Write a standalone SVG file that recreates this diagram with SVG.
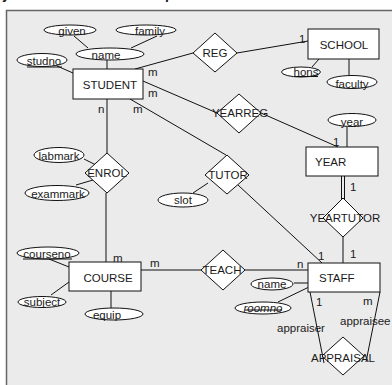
<svg xmlns="http://www.w3.org/2000/svg" width="392" height="385" viewBox="0 0 392 385">
  <style>
    text { font-family: "Liberation Sans", Arial, sans-serif; font-size: 11.5px; fill: #1a1a1a; }
    .c { text-anchor: middle; }
    .ent { fill: #fff; stroke: #111; stroke-width: 1; }
    .rel { fill: #fff; stroke: #111; stroke-width: 1; }
    .att { fill: #fff; stroke: #111; stroke-width: 1; }
    .ln { stroke: #111; stroke-width: 1; fill: none; }
    .title { font-weight: bold; font-size: 14px; }
  </style>

  <!-- background panel -->
  <rect x="0" y="0" width="392" height="385" fill="#fff"/>
  <text class="title" x="2" y="-1">y</text>
  <text class="title" x="165" y="-1">p</text>
  <rect x="6.5" y="10.5" width="390" height="380" fill="#ebebeb" stroke="#666" stroke-width="1.5"/>

  <!-- connectors -->
  <g id="connectors" class="ln">
    <line x1="74" y1="36" x2="88" y2="48"/>
    <line x1="157" y1="36" x2="131" y2="48"/>
    <line x1="107" y1="60" x2="107" y2="69"/>
    <line x1="57" y1="66" x2="73" y2="73"/>
    <line x1="135" y1="69" x2="193" y2="53"/>
    <line x1="237" y1="53" x2="308" y2="41"/>
    <line x1="319" y1="59" x2="312" y2="67"/>
    <line x1="349" y1="59" x2="349" y2="75"/>
    <line x1="143" y1="81" x2="217" y2="113"/>
    <line x1="261" y1="113" x2="338" y2="147"/>
    <line x1="347" y1="127" x2="347" y2="147"/>
    <line x1="341.5" y1="176" x2="341.5" y2="199"/>
    <line x1="344.5" y1="176" x2="344.5" y2="199"/>
    <line x1="343" y1="237" x2="343" y2="263"/>
    <line x1="130" y1="99" x2="226" y2="155"/>
    <line x1="238" y1="185" x2="322" y2="263"/>
    <line x1="193" y1="193" x2="208" y2="183"/>
    <line x1="107" y1="99" x2="107" y2="153"/>
    <line x1="84" y1="159" x2="96" y2="165"/>
    <line x1="76" y1="185" x2="93" y2="180"/>
    <line x1="106" y1="193" x2="106" y2="262"/>
    <line x1="49" y1="259" x2="69" y2="267"/>
    <line x1="51" y1="295" x2="69" y2="282"/>
    <line x1="111" y1="291" x2="111" y2="308"/>
    <line x1="141" y1="270" x2="201" y2="270"/>
    <line x1="245" y1="270" x2="308" y2="270"/>
    <line x1="294" y1="283" x2="308" y2="283"/>
    <line x1="278" y1="302" x2="309" y2="287"/>
    <line x1="310" y1="292" x2="324" y2="363"/>
    <line x1="380" y1="292" x2="366" y2="362"/>
  </g>

  <!-- cardinality and role labels -->
  <g id="labels">
    <text x="148" y="76">m</text>
    <text x="148" y="97">m</text>
    <text x="133" y="113">m</text>
    <text x="98" y="113">n</text>
    <text x="299" y="43">1</text>
    <text x="333" y="146">1</text>
    <text x="350" y="191">1</text>
    <text x="350" y="258">1</text>
    <text x="318" y="260">1</text>
    <text x="113" y="262">m</text>
    <text x="150" y="267">m</text>
    <text x="297" y="268">n</text>
    <text x="316" y="306">1</text>
    <text x="363" y="305">m</text>
    <text x="277" y="332">appraiser</text>
    <text x="340" y="325">appraisee</text>
  </g>

  <!-- entities -->
  <g id="STUDENT">
    <rect class="ent" x="73" y="69" width="70" height="30"/>
    <text class="c" x="110" y="89">STUDENT</text>
  </g>
  <g id="SCHOOL">
    <rect class="ent" x="308" y="29" width="71" height="30"/>
    <text class="c" x="344" y="49">SCHOOL</text>
  </g>
  <g id="YEAR">
    <rect class="ent" x="306" y="147" width="72" height="29"/>
    <text x="315" y="166">YEAR</text>
  </g>
  <g id="STAFF">
    <rect class="ent" x="308" y="263" width="72" height="29"/>
    <text x="319" y="282">STAFF</text>
  </g>
  <g id="COURSE">
    <rect class="ent" x="69" y="262" width="72" height="29"/>
    <text class="c" x="108" y="282">COURSE</text>
  </g>

  <!-- relationships -->
  <g id="REG">
    <polygon class="rel" points="215,33 237,53 215,72 193,53"/>
    <text class="c" x="215" y="57">REG</text>
  </g>
  <g id="YEARREG">
    <polygon class="rel" points="239,94 261,113 239,133 217,113"/>
    <text class="c" x="240" y="117">YEARREG</text>
  </g>
  <g id="TUTOR">
    <polygon class="rel" points="227,155 249,175 227,194 205,175"/>
    <text class="c" x="228" y="179">TUTOR</text>
  </g>
  <g id="ENROL">
    <polygon class="rel" points="107,153 129,173 107,193 85,173"/>
    <text class="c" x="107" y="177">ENROL</text>
  </g>
  <g id="YEARTUTOR">
    <polygon class="rel" points="343,198 363,218 343,237 323,218"/>
    <text class="c" x="345" y="222">YEARTUTOR</text>
  </g>
  <g id="TEACH">
    <polygon class="rel" points="223,250 245,270 223,290 201,270"/>
    <text class="c" x="222" y="274">TEACH</text>
  </g>
  <g id="APPRAISAL">
    <polygon class="rel" points="343,337 364,356 343,375 322,356"/>
    <text class="c" x="343" y="362">APPRAISAL</text>
  </g>

  <!-- attributes -->
  <g id="given">
    <ellipse class="att" cx="70" cy="30" rx="26" ry="5"/>
    <text class="c" x="72" y="35">given</text>
  </g>
  <g id="family">
    <ellipse class="att" cx="146" cy="30" rx="30" ry="5"/>
    <text class="c" x="150" y="35">family</text>
  </g>
  <g id="name">
    <ellipse class="att" cx="110" cy="54" rx="34" ry="6"/>
    <text class="c" x="106" y="59">name</text>
  </g>
  <g id="studno">
    <ellipse class="att" cx="42" cy="60" rx="25" ry="6.5"/>
    <text class="c" x="44" y="65">studno</text>
    <line class="ln" x1="27" y1="67" x2="62" y2="67"/>
  </g>
  <g id="hons">
    <ellipse class="att" cx="301" cy="72" rx="19.5" ry="5"/>
    <text class="c" x="306" y="76">hons</text>
    <line class="ln" x1="294" y1="76.5" x2="318" y2="76.5"/>
  </g>
  <g id="faculty">
    <ellipse class="att" cx="352" cy="82" rx="25" ry="6.5"/>
    <text class="c" x="352" y="88">faculty</text>
  </g>
  <g id="year">
    <ellipse class="att" cx="352" cy="120" rx="24" ry="6.5"/>
    <text class="c" x="352" y="126">year</text>
  </g>
  <g id="slot">
    <ellipse class="att" cx="183" cy="200" rx="25" ry="7"/>
    <text class="c" x="183" y="204">slot</text>
  </g>
  <g id="labmark">
    <ellipse class="att" cx="59" cy="155" rx="25" ry="7.5"/>
    <text class="c" x="59" y="160">labmark</text>
  </g>
  <g id="exammark">
    <ellipse class="att" cx="57" cy="193" rx="32" ry="7.5"/>
    <text class="c" x="58" y="198">exammark</text>
  </g>
  <g id="courseno">
    <ellipse class="att" cx="48" cy="253" rx="31" ry="6"/>
    <text class="c" x="47" y="258">courseno</text>
    <line class="ln" x1="23" y1="259" x2="72" y2="259"/>
  </g>
  <g id="subject">
    <ellipse class="att" cx="42" cy="302" rx="24" ry="5.5"/>
    <text class="c" x="42" y="306">subject</text>
  </g>
  <g id="equip">
    <ellipse class="att" cx="114" cy="314" rx="29" ry="6"/>
    <text class="c" x="107" y="319">equip</text>
  </g>
  <g id="staffname">
    <ellipse class="att" cx="272" cy="284" rx="21" ry="6"/>
    <text class="c" x="272" y="288">name</text>
  </g>
  <g id="roomno">
    <ellipse class="att" cx="263" cy="308" rx="28" ry="6"/>
    <text class="c" x="263" y="312" font-style="italic">roomno</text>
    <line class="ln" x1="245" y1="310" x2="282" y2="310"/>
  </g>
</svg>
